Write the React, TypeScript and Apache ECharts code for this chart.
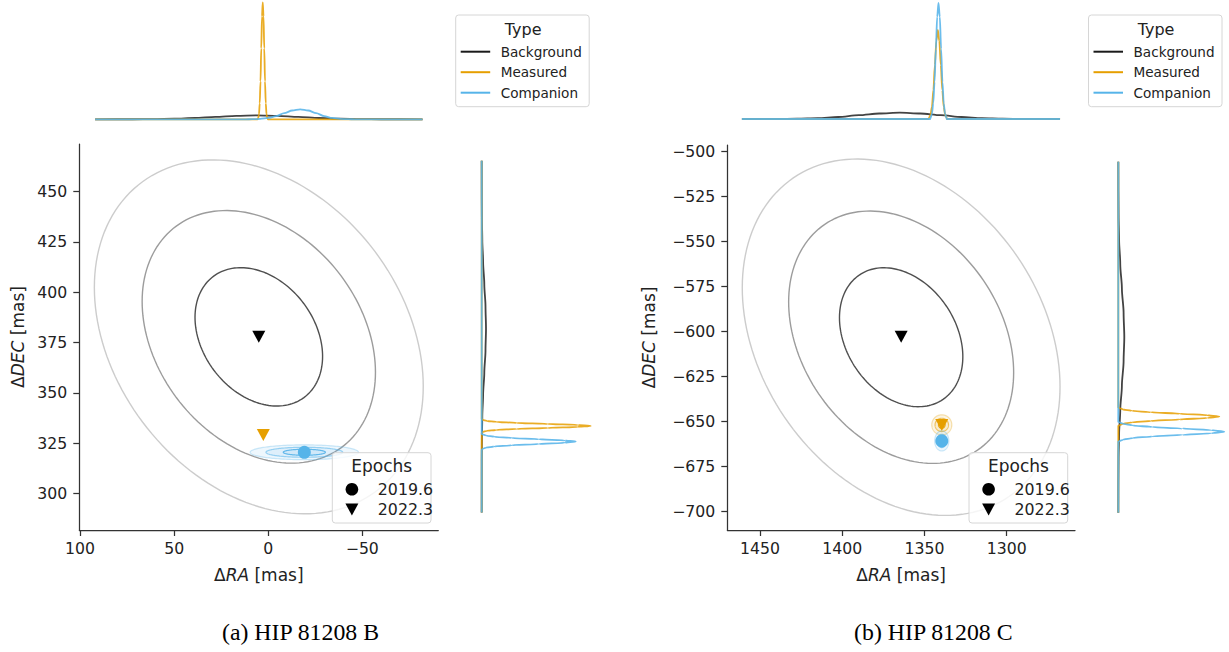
import React, { useEffect, useRef } from 'react';
import * as echarts from 'echarts';

// ---------------- Panel (a) HIP 81208 B ----------------
const raTicksA = [100, 50, 0, -50];
const decTicksA = [300, 325, 350, 375, 400, 425, 450];
const raMinA = -90.4, raMaxA = 100.4;
const decMinA = 281.75, decMaxA = 473.7;

// ellipse rows: [RA centre, DEC centre, RA half-width, DEC half-height, DEC offset at RA extreme, level]
const bgEllipsesA = [
  [5.0, 377.8, 33.9, 34.4, 9.7, 0],
  [5.0, 377.8, 62.0, 62.8, 17.6, 1],
  [5.0, 377.8, 87.4, 88.0, 24.6, 2],
];
const compEllipsesA = [
  [-19.2, 320.4, 11.2, 1.5, 0, 0],
  [-19.2, 320.4, 20.4, 2.5, 0, 1],
  [-19.2, 320.4, 28.8, 3.7, 0, 2],
];
const bgPointA = [[5.0, 377.8]];
const measPointA = [[2.6, 329.0]];
const compPointA = [[-19.2, 320.4]];

// marginal densities (RA, density) on top
const topBgA = [[92, 0], [72, 0.04], [61, 0.18], [50, 0.54], [39, 1.3], [28, 2.4], [17, 3.5], [6, 4], [-5, 3.5], [-16, 2.4], [-27, 1.3], [-38, 0.54], [-49, 0.18], [-60, 0.04], [-82, 0]];
const topMeasA = [[92, 0], [5.7, 0], [5.3, 1.3], [4.9, 5], [4.5, 16], [4.1, 38], [3.7, 71], [3.3, 103], [2.9, 117], [2.5, 103], [2.1, 71], [1.7, 38], [1.3, 16], [0.9, 5], [0.5, 1.3], [0.1, 0], [-82, 0]];
const topCompA = [[92, 0], [12, 0], [8.5, 0.11], [4.25, 0.44], [0, 1.35], [-4.25, 3.2], [-8.5, 6.1], [-12.75, 8.8], [-17, 10], [-21.25, 8.8], [-25.5, 6.1], [-29.75, 3.2], [-34, 1.35], [-38.25, 0.44], [-42.5, 0.11], [-46, 0], [-82, 0]];
// marginal densities (density, DEC) on the right
const sideBgA = [[0, 465.4], [0.05, 448], [0.19, 437], [0.58, 426], [1.4, 415], [2.6, 404], [3.8, 393], [4.3, 382], [3.8, 371], [2.6, 360], [1.4, 349], [0.58, 338], [0.19, 327], [0.05, 316], [0, 290.4]];
const sideMeasA = [[0, 465.4], [0, 337], [1.2, 336.5], [4.8, 336], [14.7, 335.5], [35, 335], [66, 334.5], [96, 334], [109, 333.5], [96, 333], [66, 332.5], [35, 332], [14.7, 331.5], [4.8, 331], [1.2, 330.5], [0, 330], [0, 290.4]];
const sideCompA = [[0, 465.4], [0, 329.5], [1, 329.3], [4.1, 328.7], [12.7, 328.1], [30, 327.5], [57, 326.9], [83, 326.3], [94, 325.7], [83, 325.1], [57, 324.5], [30, 323.9], [12.7, 323.3], [4.1, 322.7], [1, 322.1], [0, 321.5], [0, 290.4]];

// ---------------- Panel (b) HIP 81208 C ----------------
const raTicksB = [1450, 1400, 1350, 1300];
const decTicksB = [-700, -675, -650, -625, -600, -575, -550, -525, -500];
const raMinB = 1258.5, raMaxB = 1469.9;
const decMinB = -710.2, decMaxB = -496.3;

const bgEllipsesB = [
  [1364.2, -603.1, 37.5, 38.6, 10.8, 0],
  [1364.2, -603.1, 68.4, 70.1, 19.6, 1],
  [1364.2, -603.1, 96.6, 99.0, 27.5, 2],
];
const measEllipsesB = [
  [1339.5, -651.8, 2.0, 1.9, 0, 0],
  [1339.5, -651.8, 4.1, 3.7, 0, 1],
  [1339.5, -651.8, 6.1, 5.6, 0, 2],
];
const compEllipsesB = [
  [1339.5, -660.7, 1.4, 1.9, 0, 0],
  [1339.5, -660.7, 2.9, 3.7, 0, 1],
  [1339.5, -660.7, 4.3, 5.6, 0, 2],
];
const bgPointB = [[1364.2, -602.8]];
const measPointB = [[1339.5, -651.8]];
const compPointB = [[1339.5, -660.7]];

const topBgB = [[1461, 0], [1440, 0.07], [1427.5, 0.28], [1415, 0.85], [1402.5, 2.0], [1390, 3.8], [1377.5, 5.5], [1365, 6.3], [1352.5, 5.5], [1340, 3.8], [1327.5, 2.0], [1315, 0.85], [1302.5, 0.28], [1290, 0.07], [1267.6, 0]];
const topMeasB = [[1461, 0], [1347.5, 0], [1347.3, 1], [1346.4, 3.9], [1345.5, 12], [1344.6, 29], [1343.7, 54], [1342.8, 78], [1341.9, 89], [1341, 78], [1340.1, 54], [1339.2, 29], [1338.3, 12], [1337.4, 3.9], [1336.5, 1], [1336.3, 0], [1267.6, 0]];
const topCompB = [[1461, 0], [1346.5, 0], [1346.3, 1.3], [1345.5, 5.1], [1344.7, 15.7], [1343.9, 37], [1343.1, 70], [1342.3, 102], [1341.5, 116], [1340.7, 102], [1339.9, 70], [1339.1, 37], [1338.3, 15.7], [1337.5, 5.1], [1336.7, 1.3], [1336.5, 0], [1267.6, 0]];
const sideBgB = [[0, -505.6], [0.07, -522], [0.26, -535.5], [0.8, -549], [1.95, -562.5], [3.6, -576], [5.3, -589.5], [6, -603], [5.3, -616.5], [3.6, -630], [1.95, -643.5], [0.8, -657], [0.26, -670.5], [0.07, -684], [0, -700.6]];
const sideMeasB = [[0, -505.6], [0, -642], [1.1, -642.4], [4.4, -643.2], [13.7, -644], [32.5, -644.8], [61.3, -645.6], [89, -646.4], [101, -647.2], [89, -648], [61.3, -648.8], [32.5, -649.6], [13.7, -650.4], [4.4, -651.2], [1.1, -652], [0, -652.4], [0, -700.6]];
const sideCompB = [[0, -505.6], [0, -650.1], [1.2, -650.35], [4.7, -651.2], [14.3, -652.1], [34, -653], [64, -653.85], [93, -654.7], [106, -655.6], [93, -656.5], [64, -657.35], [34, -658.2], [14.3, -659.1], [4.7, -660], [1.2, -660.85], [0, -661.1], [0, -700.6]];

const typeNames = ['Background', 'Measured', 'Companion'];
const epochNames = ['2019.6', '2022.3'];
const captions = ['(a) HIP 81208 B', '(b) HIP 81208 C'];

const BLACK = '#1a1a1a';
const ORANGE = '#E69F00';
const BLUE = '#56B4E9';
const FONT = 'DejaVu Sans';

const minusFmt = (v: number) => (v < 0 ? '\u2212' + Math.abs(v) : String(v));

function ellipseSeries(xi: number, yi: number, data: number[][], kind: 'gray' | 'orange' | 'blue', z: number) {
  const grays = ['rgba(70,70,70,0.95)', 'rgba(145,145,145,0.9)', 'rgba(195,195,195,0.85)'];
  const rgb = kind === 'orange' ? '230,159,0' : '86,180,233';
  const strokeOp = [0.9, 0.55, 0.3];
  return {
    type: 'custom',
    xAxisIndex: xi,
    yAxisIndex: yi,
    data,
    z,
    silent: true,
    renderItem: (params: any, api: any) => {
      const cx = api.value(0), cy = api.value(1), w = api.value(2), h = api.value(3), s = api.value(4), lvl = api.value(5);
      const k = Math.sqrt(Math.max(h * h - s * s, 0));
      const pts: number[][] = [];
      const n = 160;
      for (let i = 0; i < n; i++) {
        const t = (i / n) * Math.PI * 2;
        pts.push(api.coord([cx + w * Math.cos(t), cy + s * Math.cos(t) + k * Math.sin(t)]));
      }
      const style =
        kind === 'gray'
          ? { fill: 'none', stroke: grays[lvl], lineWidth: 1.4 }
          : { fill: `rgba(${rgb},0.10)`, stroke: `rgba(${rgb},${strokeOp[lvl]})`, lineWidth: 1.2 };
      return { type: 'polygon', shape: { points: pts }, style };
    },
  };
}

function lineSeries(xi: number, yi: number, data: number[][], color: string, vertical: boolean, z: number, op: number) {
  return {
    type: 'line',
    xAxisIndex: xi,
    yAxisIndex: yi,
    data,
    symbol: 'none',
    smooth: 0.3,
    smoothMonotone: vertical ? 'y' : 'x',
    clip: false,
    z,
    silent: true,
    lineStyle: { color, width: 1.8, opacity: op },
  };
}

function scatterSeries(xi: number, yi: number, data: number[][], color: string, tri: boolean, z: number) {
  return {
    type: 'scatter',
    xAxisIndex: xi,
    yAxisIndex: yi,
    data,
    z,
    silent: true,
    symbol: tri ? 'triangle' : 'circle',
    symbolRotate: tri ? 180 : 0,
    symbolSize: tri ? [13, 12] : 13,
    itemStyle: { color, opacity: 1 },
  };
}

function mainX(min: number, max: number, ticks: number[]) {
  return {
    type: 'value',
    min,
    max,
    inverse: true,
    splitLine: { show: false },
    axisLine: { show: true, onZero: false, lineStyle: { color: '#333', width: 1.25 } },
    axisTick: { show: true, length: 6, customValues: ticks, lineStyle: { color: '#333', width: 1.25 } },
    axisLabel: { customValues: ticks, formatter: minusFmt, margin: 10, fontSize: 15.7, fontFamily: FONT, color: '#222' },
    name: '{n|\u0394}{i|RA}{n| [mas]}',
    nameLocation: 'middle',
    nameGap: 36,
    nameTextStyle: {
      rich: {
        n: { fontSize: 17, fontFamily: FONT, color: '#222' },
        i: { fontSize: 17, fontFamily: FONT, fontStyle: 'italic', color: '#222' },
      },
    },
  };
}

function mainY(min: number, max: number, ticks: number[], gap: number) {
  return {
    type: 'value',
    min,
    max,
    splitLine: { show: false },
    axisLine: { show: true, onZero: false, lineStyle: { color: '#333', width: 1.25 } },
    axisTick: { show: true, length: 6, customValues: ticks, lineStyle: { color: '#333', width: 1.25 } },
    axisLabel: { customValues: ticks, formatter: minusFmt, margin: 12, fontSize: 15.7, fontFamily: FONT, color: '#222' },
    name: '{n|\u0394}{i|DEC}{n| [mas]}',
    nameLocation: 'middle',
    nameRotate: 90,
    nameGap: gap,
    nameTextStyle: {
      rich: {
        n: { fontSize: 17, fontFamily: FONT, color: '#222' },
        i: { fontSize: 17, fontFamily: FONT, fontStyle: 'italic', color: '#222' },
      },
    },
  };
}

const hidden = (min: number, max: number, inverse = false) => ({ type: 'value', min, max, inverse, show: false, splitLine: { show: false } });

function typeLegend(x0: number, y0: number) {
  const colors = [BLACK, ORANGE, BLUE];
  const els: any[] = [
    { type: 'rect', shape: { x: x0, y: y0, width: 133.5, height: 91.7, r: 3 }, style: { fill: 'rgba(255,255,255,0.8)', stroke: '#d6d6d6', lineWidth: 1 }, z: 100 },
    { type: 'text', x: x0 + 67.5, y: y0 + 14, style: { text: 'Type', fill: '#222', fontSize: 16, fontFamily: FONT, align: 'center', verticalAlign: 'middle' }, z: 101 },
  ];
  typeNames.forEach((nm, i) => {
    const y = y0 + 36.7 + i * 20.5;
    els.push({ type: 'line', shape: { x1: x0 + 5, y1: y, x2: x0 + 34.5, y2: y }, style: { stroke: colors[i], lineWidth: 2 }, z: 101 });
    els.push({ type: 'text', x: x0 + 45, y, style: { text: nm, fill: '#222', fontSize: 13.6, fontFamily: FONT, align: 'left', verticalAlign: 'middle' }, z: 101 });
  });
  return els;
}

function epochLegend(x0: number, y0: number) {
  const cx = x0 + 19.6;
  const els: any[] = [
    { type: 'rect', shape: { x: x0, y: y0, width: 98.7, height: 70.3, r: 3 }, style: { fill: 'rgba(255,255,255,0.8)', stroke: '#d6d6d6', lineWidth: 1 }, z: 100 },
    { type: 'text', x: x0 + 49.4, y: y0 + 13, style: { text: 'Epochs', fill: '#222', fontSize: 17, fontFamily: FONT, align: 'center', verticalAlign: 'middle' }, z: 101 },
    { type: 'circle', shape: { cx, cy: y0 + 36.6, r: 6.3 }, style: { fill: '#000' }, z: 101 },
    { type: 'polygon', shape: { points: [[cx - 6.5, y0 + 50.8], [cx + 6.5, y0 + 50.8], [cx, y0 + 62.8]] }, style: { fill: '#000' }, z: 101 },
  ];
  epochNames.forEach((nm, i) => {
    els.push({ type: 'text', x: x0 + 45.5, y: y0 + 36.6 + i * 20, style: { text: nm, fill: '#222', fontSize: 15.8, fontFamily: FONT, align: 'left', verticalAlign: 'middle' }, z: 101 });
  });
  return els;
}

export default function App() {
  const ref = useRef<HTMLDivElement>(null);
  useEffect(() => {
    if (!ref.current) return;
    const chart = echarts.init(ref.current, undefined, { renderer: 'svg' });
    const option: any = {
      animation: false,
      backgroundColor: '#fff',
      grid: [
        { left: 79.3, top: 144, width: 359, height: 386 },
        { left: 79.3, top: 1, width: 359, height: 118.3 },
        { left: 481.7, top: 144, width: 118, height: 386 },
        { left: 727.3, top: 145, width: 347.7, height: 385 },
        { left: 727.3, top: 1, width: 347.7, height: 118 },
        { left: 1118.3, top: 145, width: 110, height: 385 },
      ],
      xAxis: [
        { ...mainX(raMinA, raMaxA, raTicksA), gridIndex: 0 },
        { ...hidden(raMinA, raMaxA, true), gridIndex: 1 },
        { ...hidden(0, 118), gridIndex: 2 },
        { ...mainX(raMinB, raMaxB, raTicksB), gridIndex: 3 },
        { ...hidden(raMinB, raMaxB, true), gridIndex: 4 },
        { ...hidden(0, 110), gridIndex: 5 },
      ],
      yAxis: [
        { ...mainY(decMinA, decMaxA, decTicksA, 53), gridIndex: 0 },
        { ...hidden(0, 118.3), gridIndex: 1 },
        { ...hidden(decMinA, decMaxA), gridIndex: 2 },
        { ...mainY(decMinB, decMaxB, decTicksB, 70), gridIndex: 3 },
        { ...hidden(0, 118), gridIndex: 4 },
        { ...hidden(decMinB, decMaxB), gridIndex: 5 },
      ],
      series: [
        ellipseSeries(0, 0, bgEllipsesA, 'gray', 2),
        ellipseSeries(0, 0, compEllipsesA, 'blue', 3),
        scatterSeries(0, 0, bgPointA, '#000', true, 5),
        scatterSeries(0, 0, measPointA, ORANGE, true, 5),
        scatterSeries(0, 0, compPointA, BLUE, false, 5),
        lineSeries(1, 1, topBgA, BLACK, false, 2, 0.82),
        lineSeries(1, 1, topMeasA, ORANGE, false, 3, 0.85),
        lineSeries(1, 1, topCompA, BLUE, false, 4, 0.88),
        lineSeries(2, 2, sideBgA, BLACK, true, 2, 0.82),
        lineSeries(2, 2, sideMeasA, ORANGE, true, 3, 0.85),
        lineSeries(2, 2, sideCompA, BLUE, true, 4, 0.88),

        ellipseSeries(3, 3, bgEllipsesB, 'gray', 2),
        ellipseSeries(3, 3, measEllipsesB, 'orange', 3),
        ellipseSeries(3, 3, compEllipsesB, 'blue', 3),
        scatterSeries(3, 3, bgPointB, '#000', true, 5),
        scatterSeries(3, 3, measPointB, ORANGE, true, 5),
        scatterSeries(3, 3, compPointB, BLUE, false, 5),
        lineSeries(4, 4, topBgB, BLACK, false, 2, 0.82),
        lineSeries(4, 4, topMeasB, ORANGE, false, 3, 0.85),
        lineSeries(4, 4, topCompB, BLUE, false, 4, 0.88),
        lineSeries(5, 5, sideBgB, BLACK, true, 2, 0.82),
        lineSeries(5, 5, sideMeasB, ORANGE, true, 3, 0.85),
        lineSeries(5, 5, sideCompB, BLUE, true, 4, 0.88),
      ],
      graphic: [
        ...typeLegend(455.7, 15),
        ...typeLegend(1088.5, 15),
        ...epochLegend(332.3, 452.7),
        ...epochLegend(969, 452.7),
        { type: 'text', x: 300.5, y: 632, style: { text: captions[0], fill: '#000', fontSize: 23.8, fontFamily: 'Liberation Serif', align: 'center', verticalAlign: 'middle' }, z: 101 },
        { type: 'text', x: 933.3, y: 632, style: { text: captions[1], fill: '#000', fontSize: 23.8, fontFamily: 'Liberation Serif', align: 'center', verticalAlign: 'middle' }, z: 101 },
      ],
    };
    chart.setOption(option);
    return () => chart.dispose();
  }, []);
  return <div ref={ref} style={{ position: 'absolute', left: 0, top: 0, width: 1229, height: 652 }} />;
}
